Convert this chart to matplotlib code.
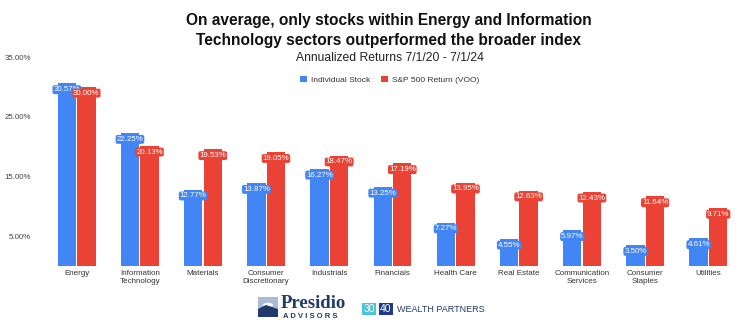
import matplotlib
matplotlib.use("Agg")
import matplotlib.pyplot as plt
from matplotlib.patches import Rectangle, Circle, Polygon
import numpy as np

categories = ["Energy", "Information\nTechnology", "Materials", "Consumer\nDiscretionary",
              "Industrials", "Financials", "Health Care", "Real Estate",
              "Communication\nServices", "Consumer\nStaples", "Utilities"]
individual = [30.57, 22.25, 12.77, 13.87, 16.27, 13.25, 7.27, 4.55, 5.97, 3.50, 4.61]
sp500 = [30.00, 20.13, 19.53, 19.05, 18.47, 17.19, 13.95, 12.63, 12.43, 11.64, 9.71]
yticks = [5, 15, 25, 35]
series_names = ["Individual Stock", "S&P 500 Return (VOO)"]

BLUE = "#4285F4"
RED = "#EA4335"
NAVY = "#1f3a6b"
FONT = "Liberation Sans"

W, H = 740, 327
fig = plt.figure(figsize=(W / 100, H / 100), dpi=100)
fig.patch.set_facecolor("white")

def fx(px):
    return px / W

def fy(py):
    return 1 - py / H

ax = fig.add_axes([fx(45), fy(266), fx(740) - fx(45), fy(57) - fy(266)])
x = np.arange(len(categories))
bw = 0.29
gap = 0.01
b1 = ax.bar(x - bw / 2 - gap, individual, bw, color=BLUE, label=series_names[0])
b2 = ax.bar(x + bw / 2 + gap, sp500, bw, color=RED, label=series_names[1])

for bars, vals, col in [(b1, individual, BLUE), (b2, sp500, RED)]:
    for b, v in zip(bars, vals):
        ax.annotate(f"{v:.2f}%", (b.get_x() + b.get_width() / 2, v),
                    xytext=(0, -4.5), textcoords="offset points",
                    ha="center", va="center", fontsize=5.7, color="white",
                    family=FONT,
                    bbox=dict(boxstyle="round,pad=0.12,rounding_size=0.25",
                              fc=col, ec="none"))

ax.set_xlim(-0.5, len(categories) - 0.5)
ax.set_ylim(0, 35)
ax.set_yticks(yticks)
ax.set_yticklabels([f"{t:.2f}%" for t in yticks], family=FONT, fontsize=5.7, color="#444444")
ax.set_xticks(x)
ax.set_xticklabels(categories, family=FONT, fontsize=5.8, color="#333333", linespacing=1.15)
ax.tick_params(axis="both", length=0)
ax.tick_params(axis="y", pad=10)
ax.tick_params(axis="x", pad=3)
for s in ax.spines.values():
    s.set_visible(False)
ax.set_facecolor("none")

# Titles
fig.text(fx(389), fy(20), "On average, only stocks within Energy and Information",
         ha="center", va="center", fontsize=11.2, fontweight="bold", family=FONT, color="#111111")
fig.text(fx(389), fy(40), "Technology sectors outperformed the broader index",
         ha="center", va="center", fontsize=11.2, fontweight="bold", family=FONT, color="#111111")
fig.text(fx(390), fy(58), "Annualized Returns 7/1/20 - 7/1/24",
         ha="center", va="center", fontsize=8.7, family=FONT, color="#222222")

# Legend
leg = fig.legend(handles=[b1, b2], labels=series_names, loc="center",
                 bbox_to_anchor=(fx(390), fy(80)), ncol=2, frameon=False,
                 prop={"family": FONT, "size": 6.0}, handlelength=0.8, handleheight=0.8,
                 columnspacing=1.3, handletextpad=0.5)
for t in leg.get_texts():
    t.set_color("#333333")

# Footer logos
fig.patches.append(Rectangle((fx(258), fy(317)), fx(20), fy(297) - fy(317),
                             transform=fig.transFigure, fc="#a9bdd6", ec="none"))
fig.patches.append(Circle((fx(268), fy(305)), fx(5), transform=fig.transFigure,
                          fc="white", ec="none"))
fig.patches.append(Polygon([(fx(258), fy(317)), (fx(258), fy(309)), (fx(266), fy(305)),
                            (fx(278), fy(309)), (fx(278), fy(317))],
                           transform=fig.transFigure, fc=NAVY, ec="none"))
fig.text(fx(281), fy(304), "Presidio", ha="left", va="center", fontsize=13.5,
         fontweight="bold", family="Liberation Serif", color=NAVY)
fig.text(fx(283), fy(316), "A D V I S O R S", ha="left", va="center", fontsize=5.5,
         fontweight="bold", family=FONT, color=NAVY)
fig.text(fx(363.5), fy(309), "30", ha="left", va="center", fontsize=7.5, family=FONT,
         color="white", bbox=dict(boxstyle="square,pad=0.12", fc="#4cc3da", ec="none"))
fig.text(fx(380), fy(309), "40", ha="left", va="center", fontsize=7.5, family=FONT,
         color="white", bbox=dict(boxstyle="square,pad=0.12", fc="#1f3a8b", ec="none"))
fig.text(fx(397), fy(309), "WEALTH PARTNERS", ha="left", va="center", fontsize=6.5,
         family=FONT, color=NAVY)

fig.savefig("out.png", dpi=100, facecolor="white")
